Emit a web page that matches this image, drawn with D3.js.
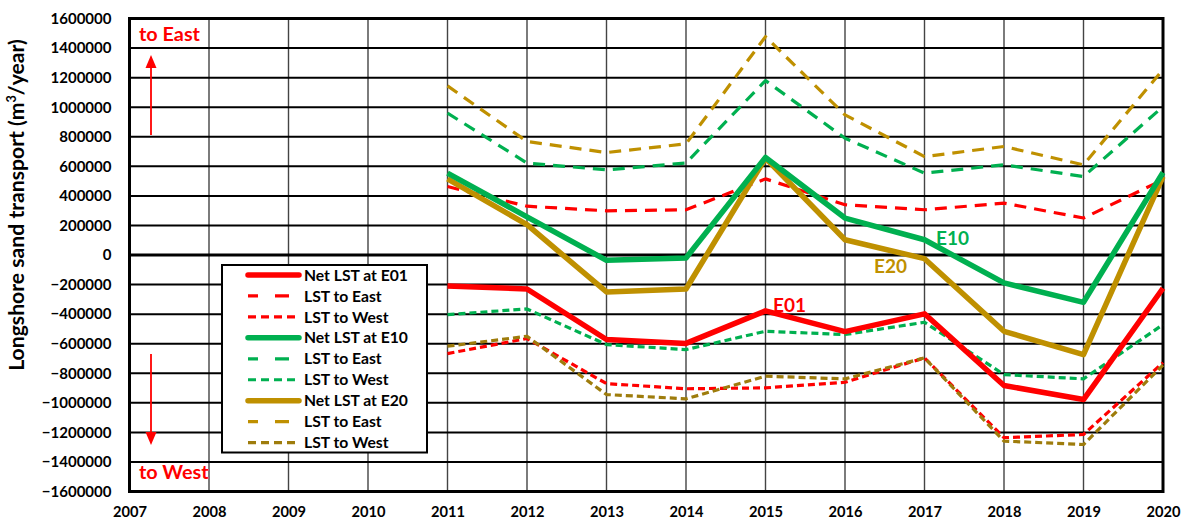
<!DOCTYPE html>
<html>
<head>
<meta charset="utf-8">
<script src="https://cdn.jsdelivr.net/npm/d3@7"></script>
<style>
  html, body { margin: 0; padding: 0; background: #fff; }
  svg text { font-family: Lato, "Open Sans", sans-serif; font-weight: bold; }
</style>
</head>
<body>
<svg id="chart" width="1189" height="524"></svg>
<script>
// ---- data ----
const years = [2011, 2012, 2013, 2014, 2015, 2016, 2017, 2018, 2019, 2020];
const xTicks = [2007, 2008, 2009, 2010, 2011, 2012, 2013, 2014, 2015, 2016, 2017, 2018, 2019, 2020];
const yTicks = [1600000, 1400000, 1200000, 1000000, 800000, 600000, 400000, 200000, 0,
  -200000, -400000, -600000, -800000, -1000000, -1200000, -1400000, -1600000];

const netE01  = [-210000, -230000, -572000, -598000, -378000, -518000, -398000, -883000, -978000, -225000];
const eastE01 = [463000, 330000, 299000, 306000, 515000, 340000, 306000, 351000, 250000, 509000];
const westE01 = [-667000, -565000, -870000, -905000, -899000, -861000, -696000, -1236000, -1214000, -728000];

const netE10  = [554000, 258000, -36000, -20000, 660000, 250000, 103000, -189000, -320000, 558000];
const eastE10 = [960000, 622000, 576000, 622000, 1180000, 790000, 554000, 610000, 531000, 1004000];
const westE10 = [-403000, -365000, -606000, -640000, -516000, -538000, -455000, -809000, -838000, -471000];

const netE20  = [515000, 205000, -250000, -230000, 655000, 103000, -25000, -516000, -674000, 531000];
const eastE20 = [1144000, 768000, 693000, 752000, 1477000, 948000, 666000, 734000, 610000, 1255000];
const westE20 = [-617000, -550000, -944000, -973000, -820000, -838000, -696000, -1259000, -1282000, -745000];

const legendLabels = ["Net LST at E01", "LST to East", "LST to West",
                      "Net LST at E10", "LST to East", "LST to West",
                      "Net LST at E20", "LST to East", "LST to West"];

// ---- styles ----
const RED = "#FF0000", GREEN = "#00B050", GOLD = "#BF9000", OLIVE = "#9E7C0C";
const SOLID = {w: 5.5, dash: null};
const LONG = {w: 3.2, dash: "12,8"};
const SHORT = {w: 3.2, dash: "7,4"};

const series = [
  {vals: netE01, color: RED, st: SOLID},
  {vals: eastE01, color: RED, st: LONG},
  {vals: westE01, color: RED, st: SHORT},
  {vals: netE10, color: GREEN, st: SOLID},
  {vals: eastE10, color: GREEN, st: LONG},
  {vals: westE10, color: GREEN, st: SHORT},
  {vals: netE20, color: GOLD, st: SOLID},
  {vals: eastE20, color: GOLD, st: LONG},
  {vals: westE20, color: OLIVE, st: SHORT}
];

const svg = d3.select("#chart");
const L = 129.5, R = 1163, T = 18.5, B = 491.5;
const x = d3.scaleLinear().domain([2007, 2020]).range([L, R]);
const y = d3.scaleLinear().domain([-1600000, 1600000]).range([B, T]);

// helper: font size so that a reference text gets a target width
function fitSize(sample, target, base) {
  const t = svg.append("text").attr("font-size", base).text(sample);
  const w = t.node().getComputedTextLength();
  t.remove();
  return w > 0 ? base * target / w : base;
}
const tickSizeY = fitSize("1600000", 61, 16);
const tickSizeX = fitSize("2007", 34, 16);
const legSize = fitSize("Net LST at E01", 104, 16);
const annSize = fitSize("to East", 61, 18);
const labSize = fitSize("E20", 33, 18);

// vertical gridlines
svg.append("g").selectAll("line").data(xTicks.slice(1, -1)).join("line")
  .attr("x1", d => x(d)).attr("x2", d => x(d)).attr("y1", T).attr("y2", B)
  .attr("stroke", "#444").attr("stroke-width", 1.4);
// horizontal gridlines
svg.append("g").selectAll("line").data(yTicks.slice(1, -1)).join("line")
  .attr("x1", L).attr("x2", R).attr("y1", d => y(d)).attr("y2", d => y(d))
  .attr("stroke", "#000").attr("stroke-width", d => d === 0 ? 3 : 2);

// frame
svg.append("rect").attr("x", L).attr("y", T).attr("width", R - L).attr("height", B - T)
  .attr("fill", "none").attr("stroke", "#000").attr("stroke-width", 3);

// axes tick labels
const yAxis = d3.axisLeft(y).tickValues(yTicks).tickSize(0).tickPadding(18).tickFormat(d3.format("d"));
const gy = svg.append("g").attr("transform", `translate(${L},0)`).call(yAxis);
gy.select(".domain").remove();
gy.selectAll("text").attr("font-size", tickSizeY).attr("fill", "#000")
  .style("font-family", "Lato, sans-serif").style("font-weight", "bold");

const xAxis = d3.axisBottom(x).tickValues(xTicks).tickSize(0).tickPadding(15).tickFormat(d3.format("d"));
const gx = svg.append("g").attr("transform", `translate(0,${B})`).call(xAxis);
gx.select(".domain").remove();
gx.selectAll("text").attr("font-size", tickSizeX).attr("fill", "#000")
  .style("font-family", "Lato, sans-serif").style("font-weight", "bold");

// y-axis title
const yt = svg.append("text").attr("transform", "translate(24,205) rotate(-90)")
  .attr("text-anchor", "middle").attr("font-size", 18).attr("fill", "#000");
yt.append("tspan").text("Longshore sand transport (m");
yt.append("tspan").attr("class", "sup").text("3").attr("font-size", 11).attr("dy", -7);
yt.append("tspan").text("/year)").attr("dy", 7);
{
  const w = yt.node().getComputedTextLength();
  const s = 18 * 332 / w;
  yt.attr("font-size", s);
  yt.select(".sup").attr("font-size", s * 0.6).attr("dy", -s * 0.4);
  yt.selectAll("tspan").filter((d, i) => i === 2).attr("dy", s * 0.4);
}

// series lines
const line = d3.line().x((d, i) => x(years[i])).y(d => y(d));
const order = [1, 2, 4, 5, 7, 8, 6, 3, 0];
svg.append("g").selectAll("path").data(order.map(i => series[i])).join("path")
  .attr("d", d => line(d.vals))
  .attr("fill", "none")
  .attr("stroke", d => d.color)
  .attr("stroke-width", d => d.st.w)
  .attr("stroke-dasharray", d => d.st.dash)
  .attr("stroke-linejoin", "round")
  .attr("stroke-linecap", "butt");

// station labels
svg.append("text").attr("x", 936).attr("y", 244.5).attr("font-size", labSize).attr("fill", GREEN).text("E10");
svg.append("text").attr("x", 874).attr("y", 273).attr("font-size", labSize).attr("fill", GOLD).text("E20");
svg.append("text").attr("x", 773).attr("y", 311.5).attr("font-size", labSize).attr("fill", RED).text("E01");

// direction annotations
svg.append("text").attr("x", 139).attr("y", 41).attr("font-size", annSize).attr("fill", RED).text("to East");
svg.append("text").attr("x", 139).attr("y", 479).attr("font-size", annSize).attr("fill", RED).text("to West");
const ax = 151;
svg.append("line").attr("x1", ax).attr("x2", ax).attr("y1", 135).attr("y2", 66)
  .attr("stroke", RED).attr("stroke-width", 1.8);
svg.append("path").attr("d", `M${ax},55 L${ax - 5.5},68 L${ax + 5.5},68 Z`).attr("fill", RED);
svg.append("line").attr("x1", ax).attr("x2", ax).attr("y1", 354).attr("y2", 433)
  .attr("stroke", RED).attr("stroke-width", 1.8);
svg.append("path").attr("d", `M${ax},445 L${ax - 5.5},432 L${ax + 5.5},432 Z`).attr("fill", RED);

// legend
const lg = svg.append("g");
lg.append("rect").attr("x", 222).attr("y", 265).attr("width", 205).attr("height", 187.5)
  .attr("fill", "#fff").attr("stroke", "#000").attr("stroke-width", 2);
const rowY = i => 275 + i * 20.95;
lg.selectAll("line.lg").data(series).join("line").attr("class", "lg")
  .attr("x1", 248).attr("x2", 299).attr("y1", (d, i) => rowY(i)).attr("y2", (d, i) => rowY(i))
  .attr("stroke", d => d.color)
  .attr("stroke-width", d => d.st.w)
  .attr("stroke-dasharray", d => d.st.dash === "12,8" ? "10,17,14" : (d.st.dash ? "8,5" : null))
  .attr("stroke-linecap", d => d.st.dash ? "butt" : "round");
lg.selectAll("text").data(legendLabels).join("text")
  .attr("x", 304).attr("y", (d, i) => rowY(i) + legSize * 0.36).attr("font-size", legSize).attr("fill", "#000")
  .text(d => d);
</script>
</body>
</html>
